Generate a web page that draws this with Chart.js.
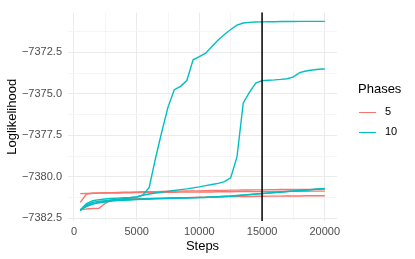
<!DOCTYPE html>
<html>
<head>
<meta charset="utf-8">
<script src="https://cdn.jsdelivr.net/npm/chart.js@4"></script>
<style>
  html, body { margin: 0; padding: 0; background: #fff; }
  #wrap { position: relative; width: 415px; height: 259px; font-family: "Liberation Sans", Arial, sans-serif; }
  #chart { position: absolute; left: 0; top: 0; }
  .lg-title { position: absolute; left: 358px; top: 81px; font-size: 13px; color: #000; }
  .lg-key { position: absolute; left: 359px; width: 17px; height: 1.4px; }
  .lg-lab { position: absolute; left: 385px; font-size: 11px; color: #000; }
</style>
</head>
<body>
<div id="wrap">
  <canvas id="chart" width="415" height="259"></canvas>
  <div class="lg-title">Phases</div>
  <div class="lg-key" style="top:111.5px;background:#F8766D"></div>
  <div class="lg-lab" style="top:105px">5</div>
  <div class="lg-key" style="top:131.5px;background:#00BFC4"></div>
  <div class="lg-lab" style="top:125px">10</div>
</div>
<script>
// ── Data ─────────────────────────────────────────────────────
const steps = [
  500, 1000, 1500, 2000, 2500, 3000, 3500, 4000, 4500, 5000,
  5500, 6000, 6500, 7000, 7500, 8000, 8500, 9000, 9500, 10000,
  10500, 11000, 11500, 12000, 12500, 13000, 13500, 14000, 14500, 15000,
  15500, 16000, 16500, 17000, 17500, 18000, 18500, 19000, 19500, 20000
];

// Phases = 5
const p5RunA = [
  -7381.55, -7381.05, -7381.00, -7380.98, -7380.97, -7380.96, -7380.95, -7380.94, -7380.93, -7380.92,
  -7380.91, -7380.90, -7380.90, -7380.89, -7380.88, -7380.87, -7380.87, -7380.86, -7380.85, -7380.85,
  -7380.84, -7380.83, -7380.83, -7380.82, -7380.81, -7380.81, -7380.80, -7380.80, -7380.79, -7380.79,
  -7380.78, -7380.78, -7380.77, -7380.77, -7380.77, -7380.76, -7380.76, -7380.76, -7380.75, -7380.75
];
const p5RunB = [
  -7381.02, -7381.01, -7381.00, -7380.99, -7380.99, -7380.98, -7380.98, -7380.97, -7380.97, -7380.96,
  -7380.96, -7380.95, -7380.95, -7380.95, -7380.94, -7380.94, -7380.93, -7380.93, -7380.93, -7380.92,
  -7380.92, -7380.92, -7380.91, -7380.91, -7380.91, -7380.90, -7380.90, -7380.90, -7380.90, -7380.89,
  -7380.89, -7380.89, -7380.89, -7380.88, -7380.88, -7380.88, -7380.88, -7380.87, -7380.87, -7380.87
];
const p5RunC = [
  -7381.97, -7381.95, -7381.92, -7381.90, -7381.60, -7381.40, -7381.36, -7381.35, -7381.34, -7381.33,
  -7381.32, -7381.31, -7381.30, -7381.29, -7381.28, -7381.27, -7381.26, -7381.26, -7381.25, -7381.24,
  -7381.23, -7381.22, -7381.22, -7381.21, -7381.20, -7381.20, -7381.19, -7381.19, -7381.18, -7381.18,
  -7381.17, -7381.17, -7381.17, -7381.16, -7381.16, -7381.16, -7381.15, -7381.15, -7381.15, -7381.15
];

// Phases = 10
const p10RunA = [
  -7382.00, -7381.62, -7381.45, -7381.38, -7381.34, -7381.31, -7381.29, -7381.27, -7381.25, -7381.22,
  -7381.10, -7380.65, -7378.90, -7377.30, -7375.80, -7374.75, -7374.55, -7374.20, -7372.95, -7372.75,
  -7372.55, -7372.15, -7371.75, -7371.42, -7371.12, -7370.86, -7370.73, -7370.69, -7370.67, -7370.66,
  -7370.65, -7370.65, -7370.64, -7370.64, -7370.64, -7370.63, -7370.63, -7370.63, -7370.63, -7370.63
];
const p10RunB = [
  -7382.02, -7381.75, -7381.62, -7381.55, -7381.48, -7381.42, -7381.37, -7381.32, -7381.27, -7381.22,
  -7381.12, -7381.04, -7380.98, -7380.93, -7380.88, -7380.83, -7380.78, -7380.73, -7380.67, -7380.61,
  -7380.54, -7380.47, -7380.40, -7380.30, -7380.06, -7378.80, -7375.55, -7374.90, -7374.35, -7374.20,
  -7374.18, -7374.16, -7374.13, -7374.09, -7373.98, -7373.72, -7373.62, -7373.56, -7373.52, -7373.50
];
const p10RunC = [
  -7382.00, -7381.80, -7381.65, -7381.58, -7381.52, -7381.47, -7381.44, -7381.42, -7381.40, -7381.38,
  -7381.36, -7381.35, -7381.33, -7381.32, -7381.31, -7381.30, -7381.29, -7381.28, -7381.27, -7381.26,
  -7381.25, -7381.23, -7381.21, -7381.19, -7381.17, -7381.15, -7381.11, -7381.08, -7381.05, -7381.02,
  -7380.99, -7380.96, -7380.93, -7380.90, -7380.87, -7380.84, -7380.81, -7380.78, -7380.75, -7380.72
];
const p10RunD = [
  -7382.05, -7381.70, -7381.55, -7381.48, -7381.44, -7381.41, -7381.39, -7381.37, -7381.36, -7381.35,
  -7381.34, -7381.33, -7381.32, -7381.31, -7381.30, -7381.29, -7381.28, -7381.27, -7381.26, -7381.25,
  -7381.24, -7381.22, -7381.20, -7381.18, -7381.16, -7381.13, -7381.10, -7381.07, -7381.04, -7381.01,
  -7380.98, -7380.95, -7380.92, -7380.89, -7380.86, -7380.83, -7380.80, -7380.77, -7380.74, -7380.71
];

const xTicks = [0, 2500, 5000, 7500, 10000, 12500, 15000, 17500, 20000];
const xLabels = ['0', '', '5000', '', '10000', '', '15000', '', '20000'];
const yTicks = [-7383.75, -7382.5, -7381.25, -7380.0, -7378.75, -7377.5, -7376.25, -7375.0, -7373.75, -7372.5, -7371.25];
const yLabels = ['', '−7382.5', '', '−7380.0', '', '−7377.5', '', '−7375.0', '', '−7372.5', ''];
const vLineStep = 15000;

const RED  = '#F8766D';
const CYAN = '#00BFC4';

// ── Chart ────────────────────────────────────────────────────
function run(values, color, order) {
  return {
    data: values.map((v, i) => ({ x: steps[i], y: v })),
    borderColor: color,
    borderWidth: 1.4,
    pointRadius: 0,
    tension: 0,
    order: order
  };
}

const vLine = {
  id: 'vLine',
  afterDatasetsDraw(chart) {
    const { ctx, chartArea, scales } = chart;
    const x = scales.x.getPixelForValue(vLineStep);
    ctx.save();
    ctx.strokeStyle = '#000';
    ctx.lineWidth = 1.5;
    ctx.beginPath();
    ctx.moveTo(x, chartArea.top);
    ctx.lineTo(x, chartArea.bottom);
    ctx.stroke();
    ctx.restore();
  }
};

const isMajorX = v => xLabels[xTicks.indexOf(v)] !== '';
const isMajorY = v => !!yLabels[yTicks.indexOf(v)];

new Chart(document.getElementById('chart'), {
  type: 'line',
  data: {
    datasets: [
      run(p5RunA, RED, 2), run(p5RunB, RED, 2), run(p5RunC, RED, 2),
      run(p10RunA, CYAN, 1), run(p10RunB, CYAN, 1), run(p10RunC, CYAN, 1), run(p10RunD, CYAN, 1)
    ]
  },
  options: {
    responsive: false,
    animation: false,
    layout: { padding: { top: 6, right: 78, left: 0, bottom: 0 } },
    plugins: { legend: { display: false }, tooltip: { enabled: false } },
    scales: {
      x: {
        type: 'linear',
        min: -475, max: 20975,
        afterBuildTicks: s => { s.ticks = xTicks.map(v => ({ value: v })); },
        afterFit: s => { s.height = 38; },
        ticks: {
          color: '#4D4D4D', padding: 4, maxRotation: 0, autoSkip: false,
          font: { family: 'Liberation Sans', size: 11 },
          callback: v => xLabels[xTicks.indexOf(v)]
        },
        grid: {
          color: ctx => isMajorX(ctx.tick.value) ? '#EBEBEB' : '#F2F2F2',
          lineWidth: ctx => isMajorX(ctx.tick.value) ? 1 : 0.8,
          drawTicks: false
        },
        border: { display: false },
        title: {
          display: true, text: 'Steps', color: '#000',
          font: { family: 'Liberation Sans', size: 13 },
          padding: { top: 1, bottom: 5 }
        }
      },
      y: {
        type: 'linear',
        min: -7382.67, max: -7370.1,
        afterBuildTicks: s => { s.ticks = yTicks.filter(v => v >= s.min && v <= s.max).map(v => ({ value: v })); },
        afterFit: s => { s.width = 68; },
        ticks: {
          color: '#4D4D4D', padding: 6, autoSkip: false,
          font: { family: 'Liberation Sans', size: 11 },
          callback: v => yLabels[yTicks.indexOf(v)]
        },
        grid: {
          color: ctx => isMajorY(ctx.tick.value) ? '#EBEBEB' : '#F2F2F2',
          lineWidth: ctx => isMajorY(ctx.tick.value) ? 1 : 0.8,
          drawTicks: false
        },
        border: { display: false },
        title: {
          display: true, text: 'Loglikelihood', color: '#000',
          font: { family: 'Liberation Sans', size: 13 },
          padding: { top: 5, bottom: 2 }
        }
      }
    }
  },
  plugins: [vLine]
});
</script>
</body>
</html>
